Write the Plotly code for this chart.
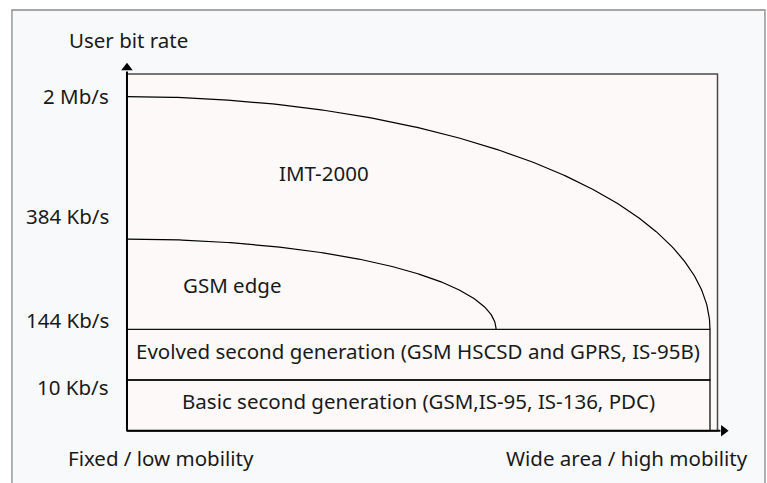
import numpy as np
import plotly.graph_objects as go

# ---- data (diagram levels in arbitrary "level" units, mobility 0..1) ----
rate_labels = ["10 Kb/s", "144 Kb/s", "384 Kb/s", "2 Mb/s"]
rate_levels = [1.0, 2.0, 3.78, 6.59]          # where each rate boundary sits
rate_label_pos = [0.86, 2.18, 4.24, 6.60]     # where each rate label sits

band_names = ["Basic second generation (GSM,IS-95, IS-136, PDC)",
              "Evolved second generation (GSM HSCSD and GPRS, IS-95B)"]
band_bottoms = [0.0, 1.0]
band_tops = [1.0, 2.0]
band_reach = [1.0, 1.0]

region_names = ["GSM edge", "IMT-2000"]
region_peak = [3.78, 6.59]
region_reach = [0.633, 1.0]
region_label_x = [0.180, 0.338]
region_label_y = [2.87, 5.08]

y_title = "User bit rate"
x_low = "Fixed / low mobility"
x_high = "Wide area / high mobility"

# ---- scales ----
X_RANGE = [-0.2178, 1.0978]
Y_RANGE = [-1.0316, 8.4951]
BOX_TOP = 7.036
BOX_RIGHT = 1.0129
ARROW_Y = 7.28
ARROW_X = 1.0343

FONT = "Noto Sans"
TXT = "#1a1a1a"
FS = 20.5

fig = go.Figure()

shapes = []
# outer frame
shapes.append(dict(type="rect", xref="x", yref="y", x0=-0.1973, x1=1.0943,
                   y0=-2.0, y1=8.298, line=dict(color="#8a8a8a", width=1.3),
                   fillcolor="#f8f9fb", layer="below"))
# inner box
shapes.append(dict(type="rect", xref="x", yref="y", x0=0, x1=BOX_RIGHT,
                   y0=0, y1=BOX_TOP, line=dict(color="#4a4a4a", width=1.5),
                   fillcolor="#fcf9f8", layer="below"))
# bands
for b0, b1, r in zip(band_bottoms, band_tops, band_reach):
    shapes.append(dict(type="rect", xref="x", yref="y", x0=0, x1=r, y0=b0, y1=b1,
                       line=dict(color="#111", width=1.3), fillcolor="rgba(0,0,0,0)"))
# axes
shapes.append(dict(type="line", xref="x", yref="y", x0=0, x1=0, y0=0, y1=BOX_TOP + 0.05,
                   line=dict(color="#000", width=2)))
shapes.append(dict(type="line", xref="x", yref="y", x0=0, x1=BOX_RIGHT + 0.005, y0=0, y1=0,
                   line=dict(color="#000", width=2)))

# curves (quarter ellipses from peak on y-axis down to the 144 Kb/s boundary)
base = rate_levels[1]
t = np.linspace(0, np.pi / 2, 200)
for peak, reach in zip(region_peak, region_reach):
    xs = reach * np.sin(t)
    ys = base + (peak - base) * np.cos(t)
    fig.add_trace(go.Scatter(x=xs, y=ys, mode="lines",
                             line=dict(color="#000", width=1.2),
                             hoverinfo="skip", showlegend=False))

# arrowheads
fig.add_trace(go.Scatter(x=[0], y=[ARROW_Y - 0.12], mode="markers",
                         marker=dict(symbol="triangle-up", size=10, color="#000"),
                         hoverinfo="skip", showlegend=False))
fig.add_trace(go.Scatter(x=[ARROW_X - 0.011], y=[0], mode="markers",
                         marker=dict(symbol="triangle-right", size=10, color="#000"),
                         hoverinfo="skip", showlegend=False))

ann = []
for lab, pos in zip(rate_labels, rate_label_pos):
    ann.append(dict(x=-0.0274, y=pos, text=lab, xanchor="right", yanchor="middle"))
for name, b0, b1, r in zip(band_names, band_bottoms, band_tops, band_reach):
    ann.append(dict(x=r / 2, y=(b0 + b1) / 2 + 0.08, text=name, xanchor="center", yanchor="middle"))
for name, lx, ly in zip(region_names, region_label_x, region_label_y):
    ann.append(dict(x=lx, y=ly, text=name, xanchor="center", yanchor="middle"))
ann.append(dict(x=0.0026, y=7.70, text=y_title, xanchor="center", yanchor="middle"))
ann.append(dict(x=-0.104, y=-0.54, text=x_low, xanchor="left", yanchor="middle"))
ann.append(dict(x=1.068, y=-0.54, text=x_high, xanchor="right", yanchor="middle"))
for a in ann:
    a.update(xref="x", yref="y", showarrow=False,
             font=dict(family=FONT, size=FS, color=TXT))

fig.update_layout(
    width=767, height=483,
    margin=dict(l=0, r=0, t=0, b=0),
    paper_bgcolor="white", plot_bgcolor="white",
    xaxis=dict(range=X_RANGE, visible=False, fixedrange=True),
    yaxis=dict(range=Y_RANGE, visible=False, fixedrange=True),
    shapes=shapes, annotations=ann, showlegend=False,
)
fig.write_html("out.html", config={"displayModeBar": False},
               post_script="document.body.style.margin='0';document.body.style.overflow='hidden';")
